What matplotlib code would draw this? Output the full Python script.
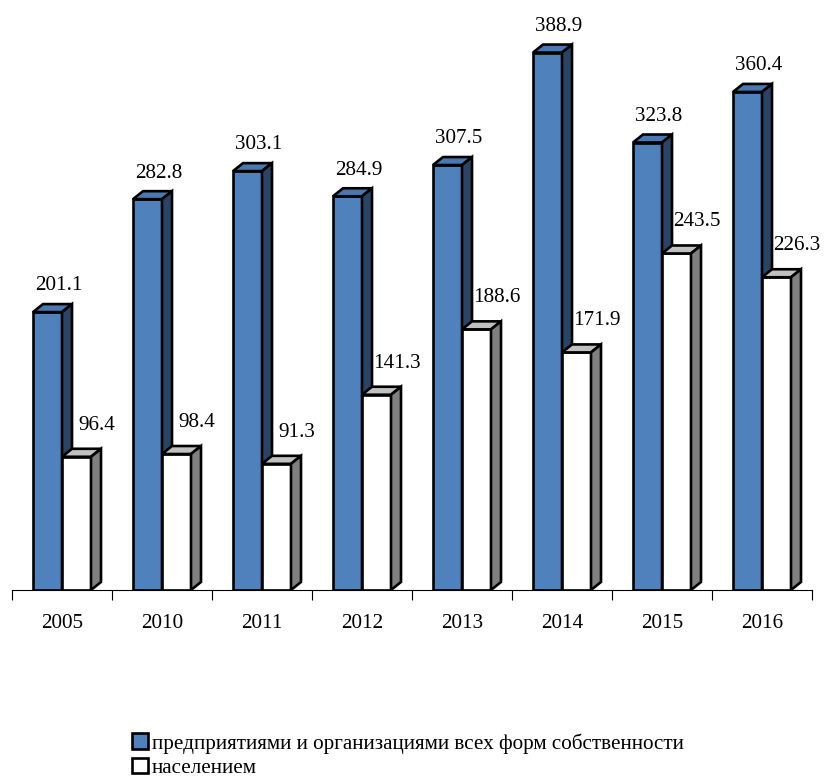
import matplotlib
matplotlib.use("Agg")
import matplotlib.pyplot as plt
from matplotlib.patches import Polygon, Patch

years = ["2005", "2010", "2011", "2012", "2013", "2014", "2015", "2016"]
enterprises = [201.1, 282.8, 303.1, 284.9, 307.5, 388.9, 323.8, 360.4]
population = [96.4, 98.4, 91.3, 141.3, 188.6, 171.9, 243.5, 226.3]
labels = ["предприятиями и организациями всех форм собственности", "населением"]

plt.rcParams["font.family"] = ["Liberation Serif", "DejaVu Serif"]

W, H = 824, 778
FS = 15.2
fig = plt.figure(figsize=(W / 100, H / 100), dpi=100)
ax = fig.add_axes([12 / W, (H - 590) / H, 800 / W, 570 / H])
px_per_unit = 1.382
ax.set_xlim(0, len(years))
ax.set_ylim(0, 570 / px_per_unit)

bar_w = 0.29
dx = 0.10
dy = 8 / px_per_unit


def bar3d(x0, h, front, top, side):
    x1 = x0 + bar_w
    kw = dict(edgecolor="black", linewidth=1.9, joinstyle="miter", zorder=3)
    ax.add_patch(Polygon([(x0, 0), (x1, 0), (x1, h), (x0, h)], facecolor=front, **kw))
    ax.add_patch(Polygon([(x0, h), (x0 + dx, h + dy), (x1 + dx, h + dy), (x1, h)],
                         facecolor=top, **kw))
    ax.add_patch(Polygon([(x1, 0), (x1 + dx, dy), (x1 + dx, h + dy), (x1, h)],
                         facecolor=side, **kw))


for i, (a, b) in enumerate(zip(enterprises, population)):
    xb = i + 0.21
    xw = xb + bar_w
    bar3d(xb, a, "#4F81BD", "#4A78B0", "#2B4463")
    bar3d(xw, b, "white", "#C0C0C0", "#808080")
    ax.annotate(f"{a:.1f}", (xb + bar_w / 2 + 0.11, a), xytext=(0, 12),
                textcoords="offset points", ha="center", va="bottom", fontsize=FS)
    ax.annotate(f"{b:.1f}", (xw + bar_w / 2 + 0.2, b), xytext=(0, 16),
                textcoords="offset points", ha="center", va="bottom", fontsize=FS)

for s in ["left", "right", "top"]:
    ax.spines[s].set_visible(False)
ax.spines["bottom"].set_linewidth(0.8)
ax.set_yticks([])
ax.set_xticks(range(len(years) + 1))
ax.set_xticklabels([])
ax.tick_params(axis="x", which="major", length=7, width=0.8)
ax.set_xticks([i + 0.5 for i in range(len(years))], minor=True)
ax.set_xticklabels(years, minor=True, fontsize=FS)
ax.tick_params(axis="x", which="minor", length=0, pad=17)

handles = [Patch(facecolor="#4F81BD", edgecolor="black", linewidth=1.9),
           Patch(facecolor="white", edgecolor="black", linewidth=1.9)]
fig.legend(handles, labels, loc="upper left", bbox_to_anchor=(132 / W, 1 - 733 / H),
           frameon=False, fontsize=FS, handlelength=0.75, handleheight=0.75,
           handletextpad=0.2, labelspacing=0.2, borderpad=0, borderaxespad=0)

fig.savefig("out.png", dpi=100)
